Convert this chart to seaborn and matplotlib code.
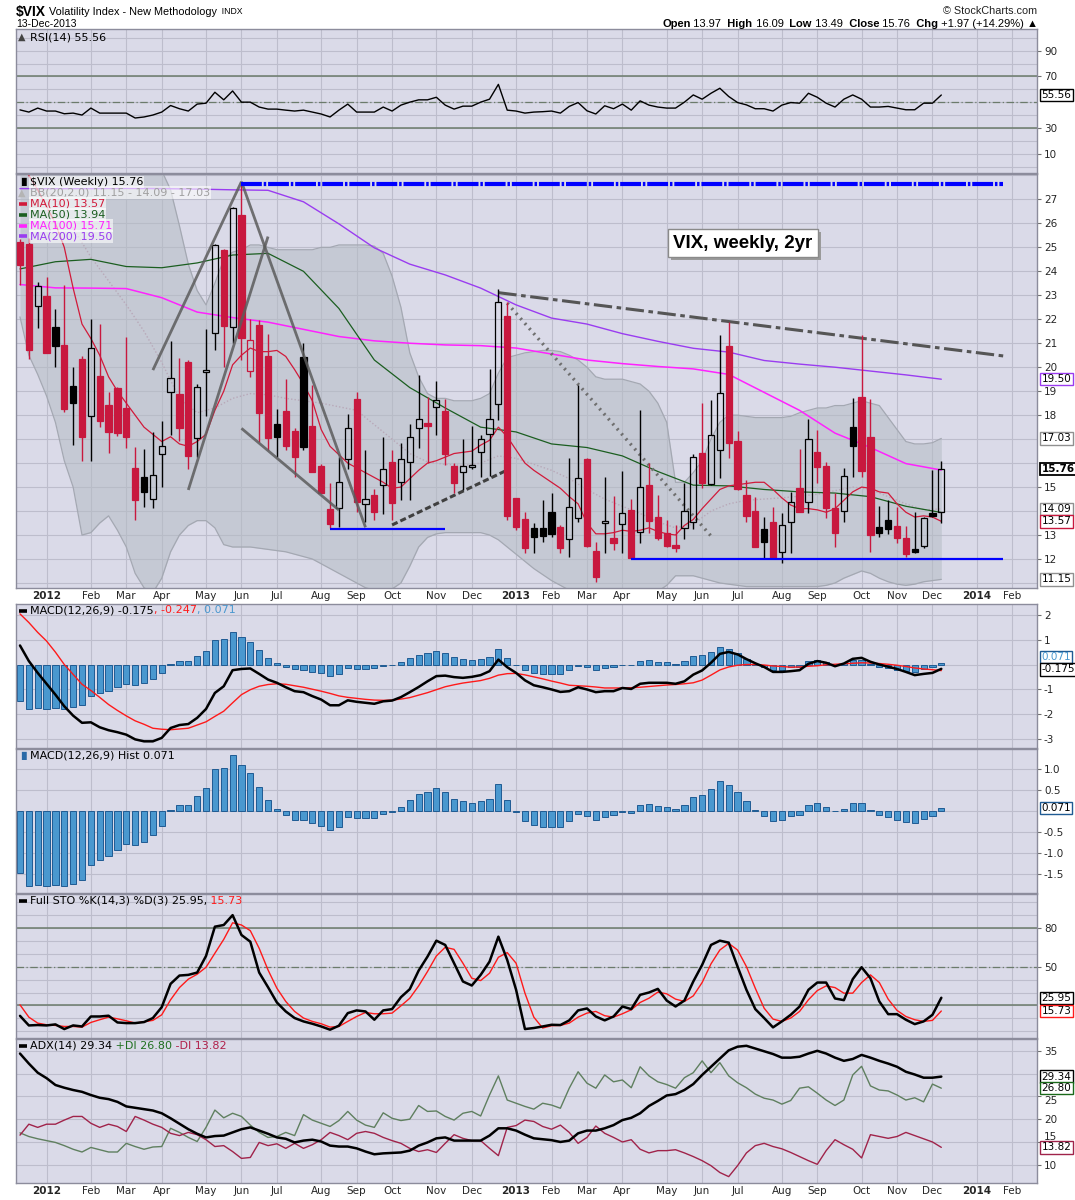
import numpy as np
import pandas as pd
import matplotlib
matplotlib.use("Agg")
import matplotlib.pyplot as plt
import matplotlib.transforms as mtransforms
from matplotlib.lines import Line2D
from matplotlib.patches import Rectangle
import seaborn as sns

# ---------------- data: $VIX weekly bars, week ending Friday ----------------
first_week = "2011-12-16"

opens = [25.24, 25.14, 22.57, 22.97, 21.68, 20.93, 19.22, 20.33, 17.98, 19.64,
         18.41, 19.12, 18.29, 15.81, 15.41, 14.49, 16.37, 18.95, 18.88, 20.23,
         17.03, 19.79, 21.44, 24.89, 21.69, 26.35, 19.86, 21.76, 20.47, 17.63,
         18.17, 17.34, 20.41, 17.55, 15.88, 14.07, 14.11, 16.16, 18.68, 14.28,
         14.67, 15.09, 16.03, 15.20, 16.03, 17.48, 17.66, 18.33, 18.19, 15.88,
         15.61, 15.84, 16.45, 17.21, 18.45, 22.14, 14.53, 13.66, 13.28, 13.28,
         13.97, 13.35, 12.82, 13.70, 16.16, 12.33, 13.49, 12.86, 13.45, 14.04,
         13.11, 15.09, 13.74, 13.07, 12.58, 13.28, 13.56, 16.41, 15.13, 16.55,
         20.90, 16.92, 14.67, 14.00, 13.24, 13.56, 12.28, 13.53, 14.95, 14.36,
         16.45, 15.88, 14.11, 14.02, 17.51, 18.74, 17.10, 13.32, 13.63, 13.38,
         12.86, 12.42, 12.54, 13.91, 13.97]
highs = [25.35, 25.40, 23.54, 23.75, 22.43, 23.43, 20.00, 20.45, 22.01, 21.80,
         18.95, 19.16, 21.28, 16.69, 16.59, 17.31, 17.77, 21.10, 20.40, 20.30,
         19.30, 21.58, 25.14, 24.95, 26.70, 27.67, 22.00, 21.97, 21.39, 18.26,
         19.50, 17.48, 21.00, 19.26, 15.95, 15.16, 16.27, 18.04, 18.98, 16.55,
         14.91, 17.10, 16.55, 16.83, 17.63, 19.68, 18.77, 19.44, 18.68, 15.99,
         16.99, 17.55, 17.17, 19.91, 23.25, 22.70, 14.55, 13.97, 13.52, 14.46,
         14.74, 13.40, 16.20, 19.26, 16.20, 12.72, 15.44, 14.63, 15.67, 14.49,
         18.22, 15.99, 14.67, 13.63, 13.42, 15.16, 16.37, 18.50, 18.63, 21.34,
         21.90, 17.34, 15.30, 14.60, 13.77, 14.15, 13.90, 14.81, 16.59, 17.83,
         17.38, 16.06, 14.74, 15.81, 18.70, 21.34, 18.66, 14.21, 14.46, 14.18,
         13.38, 13.97, 13.77, 15.71, 16.09]
lows = [23.43, 20.33, 21.65, 20.58, 20.02, 18.15, 16.76, 16.10, 16.10, 17.52,
        16.41, 17.15, 16.62, 13.63, 14.18, 14.14, 15.02, 17.17, 16.94, 15.76,
        16.24, 17.97, 20.72, 20.02, 21.00, 20.30, 19.61, 16.90, 16.55, 16.27,
        16.55, 15.44, 16.55, 15.64, 14.74, 13.28, 13.35, 15.74, 13.97, 13.56,
        13.63, 13.88, 13.63, 14.46, 14.46, 16.62, 16.02, 17.17, 15.92, 14.77,
        14.88, 15.74, 15.41, 15.46, 17.80, 13.63, 13.21, 12.26, 12.26, 12.72,
        12.90, 12.24, 12.07, 13.56, 12.49, 11.05, 12.26, 12.38, 12.26, 12.06,
        12.65, 13.10, 12.79, 12.50, 12.31, 12.82, 13.24, 14.95, 15.09, 15.36,
        16.20, 14.88, 13.56, 12.51, 12.03, 12.03, 11.82, 12.26, 13.97, 13.90,
        15.16, 13.72, 12.51, 13.56, 15.43, 15.43, 12.31, 12.93, 13.04, 12.65,
        12.07, 12.24, 12.45, 13.77, 13.49]
closes = [24.27, 20.72, 23.40, 20.61, 20.90, 18.27, 18.52, 17.10, 20.79, 17.77,
          17.31, 17.24, 17.10, 14.46, 14.81, 15.50, 16.71, 19.54, 17.45, 16.31,
          19.16, 19.89, 25.10, 21.73, 26.66, 21.23, 21.14, 18.10, 17.06, 17.10,
          16.73, 16.27, 16.69, 15.64, 14.74, 13.45, 15.20, 17.45, 14.36, 14.49,
          13.97, 15.74, 14.32, 16.16, 17.10, 17.83, 17.56, 18.63, 16.37, 15.16,
          15.88, 15.92, 16.99, 17.84, 22.71, 13.81, 13.35, 12.45, 12.93, 12.95,
          13.04, 12.45, 14.16, 15.37, 12.54, 11.26, 13.59, 12.68, 13.91, 12.06,
          14.99, 13.60, 12.86, 12.54, 12.45, 14.00, 16.27, 15.16, 17.17, 18.91,
          16.85, 14.91, 13.81, 12.51, 12.72, 12.03, 13.42, 14.36, 13.97, 16.99,
          15.85, 14.14, 13.10, 15.46, 16.73, 15.68, 13.00, 13.07, 13.27, 12.89,
          12.21, 12.28, 13.70, 13.79, 15.76]

ma10 = [28.8, 28.0, 27.4, 26.7, 26.0, 25.0, 23.3, 21.8, 21.2, 20.5,
        19.6, 19.0, 18.5, 18.0, 17.5, 17.2, 16.9, 17.1, 16.8, 16.7,
        16.9, 17.2, 18.2, 19.0, 20.1, 20.5, 20.8, 20.65, 20.65, 20.7,
        20.45, 19.9, 19.3, 18.6, 17.4, 16.7, 16.35, 16.0, 15.8, 15.6,
        15.4, 15.2, 14.95, 15.0, 15.35, 15.7, 16.0, 16.1, 16.25, 16.4,
        16.45, 16.5, 16.75, 16.95, 17.5, 17.1, 16.55, 16.0, 15.7, 15.45,
        15.2, 14.95, 14.6, 14.3, 13.5, 13.05, 13.05, 13.1, 13.2, 13.15,
        13.2, 13.3, 13.15, 13.05, 13.0, 13.4, 13.65, 14.1, 14.5, 14.9,
        15.05, 15.1, 15.15, 15.2, 15.2, 14.9, 14.55, 14.25, 14.1, 14.1,
        14.05, 13.95, 14.1, 14.45, 14.8, 15.0, 14.95, 14.8, 14.75, 14.3,
        13.95, 13.75, 13.8, 13.75, 13.57]
# slow averages, read every 4th week
ma_step = 4
ma50 = [24.1, 24.4, 24.5, 24.2, 24.15, 24.35, 24.68, 24.75, 24.0, 22.45, 20.3, 19.15, 18.3, 17.5,
        17.3, 16.8, 16.65, 16.3, 15.65, 15.08, 15.05, 14.9, 14.8, 14.75, 14.6, 14.2, 13.94]
ma100 = [23.45, 23.31, 23.3, 23.28, 22.9, 22.3, 22.07, 21.88, 21.58, 21.28, 21.1, 21.0, 20.93, 20.9,
         20.8, 20.55, 20.3, 20.15, 20.03, 19.93, 19.7, 18.95, 18.2, 17.25, 16.65, 15.98, 15.71]
ma200 = [27.45, 27.45, 27.45, 27.46, 27.45, 27.43, 27.40, 27.38, 26.9, 25.98, 24.98, 24.3, 23.85, 23.3,
         22.6, 22.05, 21.8, 21.4, 21.08, 20.79, 20.63, 20.28, 20.13, 20.0, 19.84, 19.68, 19.50]
bb_upper = [33.0, 33.2, 33.0, 32.6, 32.0, 31.5, 31.0, 30.8, 30.5, 30.2,
            30.0, 29.7, 29.4, 29.1, 28.8, 28.5, 28.2, 27.4, 25.9, 24.3,
            23.2, 22.6, 23.5, 24.5, 24.8, 24.9, 25.1, 25.1, 25.0, 24.9,
            24.9, 24.9, 24.9, 24.9, 25.0, 25.0, 25.1, 25.1, 25.1, 25.1,
            25.05, 24.75, 23.8, 22.5, 20.6, 19.6, 18.9, 18.7, 18.7, 18.6,
            18.6, 18.6, 18.7, 18.9, 19.75, 20.4, 20.5, 20.6, 20.65, 20.7,
            20.7, 20.65, 20.5, 20.3, 20.0, 19.6, 19.5, 19.5, 19.5, 19.4,
            19.3, 19.0, 18.5, 17.7, 15.2, 15.2, 15.6, 16.1, 17.0, 17.7,
            18.0, 18.0, 17.95, 17.9, 17.9, 17.9, 17.9, 17.95, 18.1, 18.2,
            18.3, 18.3, 18.4, 18.4, 18.5, 18.6, 18.5, 18.4, 17.9, 17.4,
            16.9, 16.8, 16.8, 16.85, 17.03]
bb_lower = [22.1, 20.5, 19.7, 18.8, 17.7, 16.1, 15.0, 13.0, 13.1, 13.5,
            13.8, 13.2, 12.5, 11.4, 10.8, 10.6, 11.2, 12.3, 13.0, 13.4,
            13.6, 13.6, 13.3, 12.6, 12.5, 12.5, 12.5, 12.45, 12.4, 12.35,
            12.3, 12.2, 12.1, 12.0, 11.8, 11.6, 11.4, 11.2, 11.0, 10.8,
            10.7, 10.7, 10.75, 11.0, 11.7, 12.5, 12.9, 13.05, 13.1, 13.1,
            13.1, 13.1, 13.1, 13.0, 12.8, 12.5, 12.2, 11.9, 11.6, 11.35,
            11.1, 10.9, 10.7, 10.5, 10.5, 10.45, 10.45, 10.45, 10.5, 10.5,
            10.5, 10.55, 10.65, 10.9, 11.3, 11.3, 11.3, 11.2, 11.1, 11.0,
            10.95, 10.9, 10.85, 10.85, 10.85, 10.85, 10.85, 10.85, 10.85, 10.85,
            10.85, 10.9, 11.0, 11.2, 11.35, 11.5, 11.4, 11.2, 11.05, 10.95,
            10.9, 10.95, 11.05, 11.1, 11.15]
bb_mid_step = 2
bb_mid = [28.5, 27.8, 27.0, 25.8, 24.6, 23.6, 22.6, 21.5, 20.2, 18.7,
          18.1, 18.3, 18.7, 18.9, 18.85, 18.7, 18.6, 18.5, 18.35, 18.2,
          17.6, 17.0, 16.4, 16.05, 15.95, 15.9, 16.0, 16.3, 16.2, 15.95,
          15.7, 15.35, 14.9, 14.5, 14.2, 13.9, 13.55, 13.3, 13.45, 14.0,
          14.3, 14.45, 14.5, 14.55, 14.62, 14.7, 14.85, 15.0, 14.9, 14.6,
          14.3, 14.05, 14.09]

rsi = [44.0, 42.3, 45.4, 43.1, 43.1, 41.0, 41.5, 40.0, 45.4, 41.5,
       41.5, 41.5, 41.5, 37.7, 38.5, 40.0, 42.3, 47.4, 44.9, 43.1,
       48.5, 49.2, 57.7, 51.8, 58.7, 50.0, 50.0, 46.2, 44.6, 44.6,
       43.8, 43.1, 43.8, 42.3, 40.8, 38.5, 43.8, 48.5, 42.3, 42.3,
       42.3, 46.2, 43.1, 47.7, 50.0, 51.8, 51.8, 53.8, 47.7, 44.6,
       46.9, 46.9, 50.0, 52.3, 63.8, 43.8, 43.1, 41.5, 42.3, 42.6,
       43.1, 41.5, 46.7, 49.7, 43.3, 40.8, 47.2, 44.9, 48.5, 43.8,
       51.0, 47.7, 46.2, 45.4, 45.4, 50.0, 55.6, 52.3, 56.9, 60.8,
       54.4, 49.7, 47.9, 44.9, 44.9, 43.1, 47.7, 49.7, 49.2, 56.9,
       53.8, 49.2, 46.2, 52.3, 55.6, 52.3, 46.2, 46.2, 46.7, 45.4,
       44.1, 44.1, 49.2, 49.2, 55.56]

macd_line = [0.77, 0.14, -0.34, -0.78, -1.22, -1.69, -2.07, -2.36, -2.34, -2.54,
             -2.66, -2.74, -2.84, -3.03, -3.11, -3.11, -2.97, -2.57, -2.45, -2.41,
             -2.16, -1.80, -1.15, -0.88, -0.23, -0.18, -0.16, -0.38, -0.61, -0.74,
             -0.92, -1.08, -1.12, -1.28, -1.42, -1.65, -1.65, -1.45, -1.51, -1.55,
             -1.59, -1.49, -1.46, -1.32, -1.12, -0.91, -0.68, -0.47, -0.45, -0.51,
             -0.54, -0.50, -0.43, -0.27, 0.20, -0.11, -0.34, -0.64, -0.84, -0.92,
             -1.01, -1.11, -1.08, -0.92, -1.01, -1.12, -1.08, -1.08, -0.95, -0.99,
             -0.78, -0.74, -0.74, -0.74, -0.78, -0.68, -0.41, -0.24, 0.07, 0.43,
             0.51, 0.41, 0.22, 0.05, -0.10, -0.30, -0.30, -0.27, -0.23, 0.03,
             0.14, 0.07, -0.07, 0.04, 0.23, 0.27, 0.11, 0.00, -0.09, -0.18,
             -0.30, -0.43, -0.38, -0.34, -0.175]
macd_signal = [2.05, 1.70, 1.30, 0.95, 0.50, 0.00, -0.40, -0.80, -1.05, -1.33,
               -1.62, -1.86, -2.08, -2.28, -2.42, -2.58, -2.62, -2.64, -2.61, -2.58,
               -2.45, -2.32, -2.10, -1.89, -1.55, -1.22, -1.02, -0.88, -0.81, -0.78,
               -0.80, -0.86, -0.92, -1.00, -1.08, -1.17, -1.27, -1.33, -1.37, -1.41,
               -1.44, -1.45, -1.44, -1.40, -1.34, -1.24, -1.14, -1.02, -0.90, -0.82,
               -0.75, -0.70, -0.65, -0.56, -0.43, -0.37, -0.36, -0.42, -0.50, -0.58,
               -0.67, -0.75, -0.84, -0.86, -0.88, -0.91, -0.95, -0.95, -0.95, -0.94,
               -0.92, -0.89, -0.86, -0.83, -0.81, -0.78, -0.74, -0.63, -0.43, -0.22,
               -0.10, -0.03, 0.00, 0.00, -0.02, -0.06, -0.08, -0.11, -0.10, -0.07,
               -0.05, -0.01, 0.01, 0.03, 0.05, 0.07, 0.06, 0.04, 0.01, -0.03,
               -0.08, -0.14, -0.18, -0.21, -0.247]
macd_hist = [-1.47, -1.79, -1.75, -1.79, -1.76, -1.79, -1.72, -1.64, -1.29, -1.17,
             -1.07, -0.93, -0.79, -0.81, -0.74, -0.57, -0.36, 0.02, 0.14, 0.14,
             0.36, 0.55, 1.00, 1.02, 1.33, 1.10, 0.90, 0.57, 0.26, 0.06,
             -0.10, -0.20, -0.22, -0.29, -0.36, -0.45, -0.38, -0.14, -0.17, -0.17,
             -0.16, -0.06, -0.02, 0.10, 0.26, 0.40, 0.45, 0.55, 0.45, 0.29,
             0.24, 0.19, 0.24, 0.30, 0.64, 0.26, -0.02, -0.24, -0.34, -0.38,
             -0.38, -0.38, -0.24, -0.06, -0.12, -0.21, -0.13, -0.10, -0.01, -0.04,
             0.14, 0.17, 0.12, 0.10, 0.04, 0.14, 0.33, 0.38, 0.52, 0.71,
             0.63, 0.45, 0.24, 0.02, -0.12, -0.24, -0.21, -0.12, -0.10, 0.14,
             0.19, 0.11, 0.00, 0.06, 0.19, 0.19, 0.02, -0.10, -0.14, -0.21,
             -0.26, -0.29, -0.19, -0.12, 0.071]

sto_k = [12.0, 4.6, 4.9, 4.6, 5.4, 1.8, 4.6, 3.8, 11.5, 11.5,
         12.1, 6.9, 6.4, 6.4, 7.2, 10.3, 18.7, 36.7, 43.1, 43.6,
         45.4, 58.2, 80.8, 82.1, 89.7, 74.4, 69.2, 45.4, 34.1, 22.3,
         15.4, 10.3, 7.7, 5.9, 3.8, 1.3, 4.4, 14.1, 16.2, 15.4,
         9.0, 16.2, 17.2, 26.4, 32.6, 46.9, 57.7, 70.0, 66.7, 52.6,
         38.5, 35.4, 43.6, 53.8, 73.1, 55.1, 32.1, 1.8, 2.6, 3.8,
         5.1, 4.9, 8.5, 16.2, 17.7, 11.5, 8.5, 11.5, 19.2, 17.2,
         28.2, 30.0, 32.8, 23.8, 19.2, 23.8, 38.5, 51.3, 66.7, 70.0,
         68.5, 50.0, 32.1, 17.2, 10.3, 3.1, 7.7, 12.8, 19.2, 32.1,
         37.7, 37.7, 25.4, 24.1, 40.3, 49.5, 41.0, 23.1, 13.3, 13.3,
         9.0, 5.6, 7.7, 12.8, 25.95]
sto_d = [20.5, 11.0, 6.4, 5.1, 4.6, 3.8, 3.8, 3.3, 6.9, 9.0,
         11.0, 9.7, 8.2, 6.4, 7.4, 8.5, 12.8, 24.4, 33.8, 40.3,
         44.1, 49.5, 60.3, 71.0, 83.8, 82.1, 77.7, 64.1, 47.4, 33.3,
         23.1, 15.4, 10.3, 7.7, 5.9, 3.3, 3.8, 7.7, 11.5, 14.6,
         13.6, 13.6, 14.1, 19.7, 25.6, 35.1, 46.2, 58.2, 64.9, 63.3,
         52.6, 41.0, 39.2, 44.9, 57.2, 60.8, 52.6, 29.5, 11.0, 2.6,
         4.4, 4.6, 6.4, 11.0, 14.1, 15.4, 12.1, 11.0, 13.6, 16.7,
         22.3, 25.6, 30.3, 29.0, 24.9, 23.1, 27.4, 37.7, 52.1, 62.8,
         67.9, 62.8, 50.0, 33.3, 17.9, 9.5, 7.7, 10.3, 15.4, 24.4,
         31.5, 35.1, 33.8, 29.5, 29.5, 37.7, 43.6, 37.7, 24.9, 16.2,
         11.5, 9.0, 7.7, 8.5, 15.73]

adx = [34.4, 32.2, 30.2, 29.0, 27.5, 26.9, 26.4, 26.0, 25.3, 24.7,
       24.4, 23.8, 22.8, 22.5, 22.2, 21.9, 21.3, 20.2, 19.0, 17.8,
       16.8, 16.0, 16.3, 16.4, 17.1, 17.8, 18.2, 17.5, 16.8, 16.0,
       15.7, 14.9, 15.3, 15.5, 15.1, 14.2, 14.0, 14.0, 13.6, 12.9,
       12.3, 12.5, 12.6, 12.7, 13.1, 14.2, 14.9, 15.8, 16.0, 15.3,
       15.3, 15.3, 15.3, 16.4, 18.0, 18.0, 17.5, 16.6, 15.8, 15.6,
       15.4, 15.0, 15.3, 16.9, 17.5, 17.5, 18.0, 18.7, 19.8, 20.3,
       21.3, 22.9, 24.0, 25.2, 25.5, 26.4, 27.7, 29.7, 31.5, 33.3,
       35.1, 35.9, 36.1, 35.5, 34.9, 34.3, 33.5, 33.5, 33.7, 34.4,
       35.0, 34.4, 33.5, 32.8, 33.2, 34.1, 33.5, 32.8, 32.2, 31.5,
       30.4, 29.8, 29.1, 29.1, 29.34]
plus_di = [17.0, 16.2, 15.7, 15.3, 14.9, 14.2, 13.4, 12.8, 13.8, 13.3,
           12.8, 12.8, 14.7, 14.0, 13.4, 13.9, 14.0, 18.0, 17.1, 16.0,
           15.1, 18.2, 22.0, 20.3, 21.3, 20.6, 18.7, 17.1, 16.0, 16.2,
           17.1, 16.4, 21.0, 19.8, 19.1, 18.4, 19.7, 21.7, 19.8, 18.7,
           18.2, 21.4, 20.2, 19.7, 20.0, 23.0, 21.7, 21.8, 20.6, 19.8,
           21.3, 21.7, 20.7, 25.3, 29.5, 24.2, 23.5, 22.8, 22.2, 23.5,
           23.1, 22.4, 26.8, 30.4, 27.9, 26.8, 29.7, 28.2, 28.6, 26.9,
           31.5, 29.5, 28.2, 27.6, 26.8, 29.1, 30.2, 32.8, 30.2, 32.4,
           29.5, 28.0, 26.9, 25.5, 24.6, 24.2, 23.3, 24.1, 26.8, 27.1,
           25.7, 24.2, 23.0, 24.2, 29.7, 31.6, 27.3, 26.4, 26.2, 25.3,
           24.2, 24.7, 23.8, 27.7, 26.80]
minus_di = [16.5, 18.9, 18.2, 18.9, 18.9, 19.8, 20.6, 20.6, 19.1, 18.2,
            18.9, 18.4, 17.3, 20.6, 19.8, 18.9, 18.2, 16.9, 16.4, 17.1,
            16.6, 15.5, 14.0, 14.2, 12.9, 11.4, 11.6, 14.9, 14.2, 14.6,
            13.6, 14.7, 13.6, 14.4, 15.5, 17.1, 16.4, 15.5, 16.9, 17.3,
            16.9, 16.0, 15.3, 14.7, 13.6, 12.9, 13.3, 12.7, 14.7, 16.6,
            15.8, 15.3, 15.3, 13.6, 12.0, 18.2, 18.6, 19.8, 19.5, 18.4,
            17.8, 18.7, 17.1, 14.7, 16.0, 18.5, 16.9, 16.0, 15.0, 15.5,
            13.4, 12.6, 13.1, 13.1, 13.3, 12.6, 11.8, 10.9, 9.8, 8.3,
            7.4, 9.8, 12.6, 14.2, 14.7, 14.0, 13.5, 12.7, 11.8, 10.9,
            10.1, 13.1, 15.5, 14.4, 13.4, 11.5, 16.6, 16.2, 15.8, 16.2,
            17.1, 16.4, 15.7, 15.0, 13.82]

# chartist's annotations: (start week, start value, end week, end value)
wedge_lines = [("2012-03-30", 19.88, "2012-06-08", 27.74),
               ("2012-04-27", 14.88, "2012-06-29", 25.45),
               ("2012-06-08", 27.74, "2012-09-14", 13.32),
               ("2012-06-08", 17.45, "2012-08-24", 14.04)]
top_resistance = ("2012-06-08", 27.66, "2014-01-31", 27.66)
support_2012 = ("2012-08-17", 13.25, "2012-11-16", 13.25)
support_2013 = ("2013-04-12", 12.0, "2014-01-31", 12.0)
rising_2012 = ("2012-10-05", 13.42, "2013-01-04", 15.71)
falling_highs = ("2012-12-28", 23.11, "2014-01-31", 20.47)
falling_dots = ("2013-01-04", 22.67, "2013-06-14", 12.96)

# ---------------- layout ----------------
W, H = 1075, 1200
BG = "#dadae8"
GRID = "#bdbdcc"
RED = "#c8183e"
REFLINE = "#6b7b6b"

sns.set_style("white")
plt.rcParams["font.family"] = ["DejaVu Sans"]
SANS = ["Liberation Sans", "DejaVu Sans"]

n = len(closes)
x = np.arange(n)
t0 = pd.Timestamp(first_week)


def wk(d):
    return (pd.Timestamp(d) - t0).days / 7.0


all_weeks = pd.date_range(first_week, periods=116, freq="W-FRI")
mondays = all_weeks - pd.Timedelta(days=4)
month_pos, month_lab = [], []
for k in range(1, len(all_weeks)):
    if mondays[k].month != mondays[k - 1].month:
        month_pos.append(k)
        month_lab.append(str(mondays[k].year) if mondays[k].month == 1 else mondays[k].strftime("%b"))

XMIN, XMAX = -0.45, 114.8

fig = plt.figure(figsize=(W / 100, H / 100), dpi=100)
fig.patch.set_facecolor("white")


def panel(top, bottom):
    return fig.add_axes([16 / W, 1 - bottom / H, (1037 - 16) / W, (bottom - top) / H])


ax_rsi = panel(29, 173)
ax_main = panel(174, 588)
ax_macd = panel(603.5, 748)
ax_hist = panel(748.5, 893)
ax_sto = panel(893.5, 1038)
ax_adx = panel(1038.5, 1183)


def style(ax, ylim, ticks, labels, grid):
    ax.set_facecolor(BG)
    ax.set_xlim(XMIN, XMAX)
    ax.set_ylim(*ylim)
    for s in ax.spines.values():
        s.set_color("#8c8c9c")
        s.set_linewidth(1.0)
    ax.yaxis.tick_right()
    ax.set_yticks(ticks)
    ax.set_yticklabels(labels)
    ax.tick_params(axis="y", length=3, width=0.8, color="#707070", labelsize=7.5, pad=2)
    ax.set_xticks(month_pos)
    ax.set_xticklabels([])
    ax.tick_params(axis="x", length=0)
    for g in grid:
        ax.axhline(g, color=GRID, lw=0.8, zorder=0.6)
    for m in month_pos:
        ax.axvline(m, color=GRID, lw=0.8, zorder=0.6)


def sline(ax, xs, ys, color, lw=1.0, z=3):
    sns.lineplot(x=np.asarray(xs, float), y=np.asarray(ys, float), ax=ax, color=color,
                 linewidth=lw, estimator=None, sort=False, legend=False, zorder=z)


def seg(ax, spec, **kw):
    d0, v0, d1, v1 = spec
    ax.plot([wk(d0), wk(d1)], [v0, v1], solid_capstyle="butt", **kw)


def tag(ax, y, text, edge, tcolor="black", bold=False, lw=1.0):
    tr = mtransforms.blended_transform_factory(ax.transAxes, ax.transData)
    ax.text(1.0045, y, text, transform=tr, ha="left", va="center", fontsize=7.5, color=tcolor,
            fontweight="bold" if bold else "normal", clip_on=False, zorder=30,
            bbox=dict(boxstyle="square,pad=0.12", fc="white", ec=edge, lw=lw))


# ---------------- RSI ----------------
style(ax_rsi, (-5.0, 106.8), [10, 30, 70, 90], ["10", "30", "70", "90"], range(0, 101, 10))
ax_rsi.axhline(70, color=REFLINE, lw=1.1, zorder=1)
ax_rsi.axhline(30, color=REFLINE, lw=1.1, zorder=1)
ax_rsi.axhline(50, color=REFLINE, lw=0.9, dashes=(6, 2, 1, 2), zorder=1)
sline(ax_rsi, x, rsi, "black", 1.0)
tag(ax_rsi, 55.56, "55.56", "black")

# ---------------- price ----------------
price_ticks = [12, 13, 15, 18, 19, 20, 21, 22, 23, 24, 25, 26, 27]
style(ax_main, (10.79, 28.06), price_ticks, [str(v) for v in price_ticks], range(11, 29))
ax_main.fill_between(x, bb_lower, bb_upper, color="#b4bcc4", alpha=0.55, lw=0, zorder=1)
sline(ax_main, x, bb_upper, "#a4a8b2", 0.9, 1.5)
sline(ax_main, x, bb_lower, "#a4a8b2", 0.9, 1.5)
ax_main.plot(np.arange(0, n, bb_mid_step), bb_mid, color="#b8a8b8", lw=1.0, ls=(0, (1, 1.5)), zorder=1.6)
xs4 = np.arange(0, n, ma_step)
sline(ax_main, xs4, ma200, "#9a3cf0", 1.0, 2)
sline(ax_main, xs4, ma100, "#ff22ff", 1.1, 2)
sline(ax_main, xs4, ma50, "#1b5e20", 0.9, 2.2)
sline(ax_main, x, ma10, "#d11a3a", 0.9, 2.3)

# annotation lines behind candles
seg(ax_main, falling_highs, color="#555555", lw=2.2, dashes=(6, 1.5, 1.5, 1.5), zorder=3)
seg(ax_main, falling_dots, color="#6f6f6f", lw=2.4, dashes=(0.6, 1.4), zorder=3)
seg(ax_main, rising_2012, color="#404040", lw=2.2, dashes=(2, 1), zorder=3)

o = np.asarray(opens)
c = np.asarray(closes)
h = np.asarray(highs)
l = np.asarray(lows)
prev = np.r_[o[0], c[:-1]]
down = c < prev
filled = c < o
col = np.where(down, RED, "black")
body_lo = np.minimum(o, c)
body_hi = np.maximum(o, c)
ax_main.vlines(x, l, body_lo, colors=col, lw=1.0, zorder=4)
ax_main.vlines(x, body_hi, h, colors=col, lw=1.0, zorder=4)
face = [cc if f else "none" for cc, f in zip(col, filled)]
ax_main.bar(x, np.maximum(body_hi - body_lo, 0.05), bottom=body_lo, width=0.7,
            color=face, edgecolor=col, linewidth=0.9, zorder=5)

for spec in wedge_lines:
    seg(ax_main, spec, color="#5c5c5c", lw=2.0, alpha=0.85, zorder=6)
seg(ax_main, top_resistance, color="#0000ff", lw=3.0, dashes=(5, 0.45, 0.6, 0.45), zorder=6)
seg(ax_main, support_2012, color="#0000ff", lw=1.6, zorder=6)
seg(ax_main, support_2013, color="#0000ff", lw=1.6, zorder=6)

note = ax_main.text(0.712, 0.833, "VIX, weekly, 2yr", transform=ax_main.transAxes, ha="center",
                    va="center", fontsize=13.5, fontweight="bold", family=SANS, color="black", zorder=8,
                    bbox=dict(boxstyle="square,pad=0.3", fc="white", ec="#8a8a8a", lw=1))

tag(ax_main, 19.50, "19.50", "#9a3cf0")
tag(ax_main, 17.03, "17.03", "#909090")
tag(ax_main, 15.76, "15.76", "black", bold=True, lw=1.3)
tag(ax_main, 14.09, "14.09", "#909090")
tag(ax_main, 13.57, "13.57", RED)
tag(ax_main, 11.15, "11.15", "#909090")

ax_main.set_xticks(x, minor=True)
ax_main.tick_params(axis="x", which="minor", length=2, color="#707080", direction="out")
ax_main.set_xticklabels(month_lab)
ax_main.tick_params(axis="x", which="major", length=0, pad=2, labelsize=7.5)

# ---------------- MACD ----------------
style(ax_macd, (-3.38, 2.47), [2, 1, -1, -2, -3], ["2", "1", "-1", "-2", "-3"], range(-3, 3))
ax_macd.bar(x, macd_hist, width=0.7, color="#4a98cf", edgecolor="#1f5b93", linewidth=0.7, zorder=2)
sline(ax_macd, x, macd_signal, "#ff1a1a", 1.0, 3)
sline(ax_macd, x, macd_line, "black", 1.8, 4)
tag(ax_macd, 0.30, "0.071", "#1f5b93", tcolor="#4a98cf")
tag(ax_macd, -0.2, "-0.175", "black")

# ---------------- MACD histogram ----------------
style(ax_hist, (-1.945, 1.49), [1.0, 0.5, -0.5, -1.0, -1.5],
      ["1.0", "0.5", "-0.5", "-1.0", "-1.5"], [-1.5, -1.0, -0.5, 0, 0.5, 1.0])
ax_hist.bar(x, macd_hist, width=0.7, color="#4a98cf", edgecolor="#1f5b93", linewidth=0.7, zorder=2)
tag(ax_hist, 0.071, "0.071", "#1f5b93")

# ---------------- Full stochastics ----------------
style(ax_sto, (-5.1, 106.4), [80, 50], ["80", "50"], range(0, 101, 10))
ax_sto.axhline(80, color=REFLINE, lw=1.1, zorder=1)
ax_sto.axhline(20, color=REFLINE, lw=1.1, zorder=1)
ax_sto.axhline(50, color=REFLINE, lw=0.9, dashes=(6, 2, 1, 2), zorder=1)
sline(ax_sto, x, sto_d, "#ff1a1a", 1.0, 3)
sline(ax_sto, x, sto_k, "black", 1.8, 4)
tag(ax_sto, 25.95, "25.95", "black")
tag(ax_sto, 15.73, "15.73", "#ff1a1a")

# ---------------- ADX ----------------
style(ax_adx, (6.0, 37.7), [35, 25, 20, 15, 10], ["35", "25", "20", "15", "10"], range(10, 36, 5))
for lab in ax_adx.get_yticklabels():
    if lab.get_text() == "25":
        lab.set_verticalalignment("top")
    elif lab.get_text() == "15":
        lab.set_verticalalignment("bottom")
sline(ax_adx, x, plus_di, "#5f7f5f", 1.0, 3)
sline(ax_adx, x, minus_di, "#a0234a", 1.0, 3)
sline(ax_adx, x, adx, "black", 1.8, 4)
tag(ax_adx, 29.34, "29.34", "black")
tag(ax_adx, 26.80, "26.80", "#1a6a1a")
tag(ax_adx, 13.82, "13.82", "#a0234a")
ax_adx.set_xticks(x, minor=True)
ax_adx.tick_params(axis="x", which="minor", length=2, color="#707080", direction="out")
ax_adx.set_xticklabels(month_lab)
ax_adx.tick_params(axis="x", which="major", length=0, pad=2, labelsize=7.5)

for ax in (ax_main, ax_adx):
    for lab, txt in zip(ax.get_xticklabels(), month_lab):
        if txt.isdigit():
            lab.set_fontweight("bold")

# ---------------- texts ----------------
fig.canvas.draw()
renderer = fig.canvas.get_renderer()

# drop shadow behind the note box
nb = note.get_bbox_patch().get_window_extent(renderer)
ax_main.add_patch(Rectangle((nb.x0 + 3, nb.y0 - 3), nb.width, nb.height, transform=mtransforms.IdentityTransform(),
                            fc="#9a9a9a", ec="none", zorder=7, clip_on=False))


def text_run(x0, y0, pieces, size=8, family=None, right=False, bg=False):
    arts, cur = [], x0
    for p in pieces:
        s, color, weight = p[:3]
        sz = p[3] if len(p) > 3 else size
        kw = dict(color=color, fontsize=sz, fontweight=weight, ha="left", va="center", zorder=40)
        if family:
            kw["family"] = family
        if bg:
            kw["bbox"] = dict(fc="white", ec="none", alpha=0.6, pad=0.8)
        t = fig.text(cur / W, 1 - y0 / H, s, **kw)
        cur += t.get_window_extent(renderer).width
        arts.append(t)
    if right:
        shift = (cur - x0) / W
        for t in arts:
            px, py = t.get_position()
            t.set_position((px - shift, py))
    return cur


def swatch(x0, y0, color, width=8, lw=2.6):
    fig.add_artist(Line2D([x0 / W, (x0 + width) / W], [1 - y0 / H, 1 - y0 / H], color=color, lw=lw,
                          solid_capstyle="butt", zorder=45))


text_run(16, 12, [("$VIX", "black", "bold", 10), (" Volatility Index - New Methodology", "black", "normal", 7.8),
                  ("  INDX", "black", "normal", 6.2)], family=SANS)
text_run(16, 24, [("13-Dec-2013", "black", "normal", 7.5)], family=SANS)
text_run(1037, 11, [("\u00a9 StockCharts.com", "#222222", "normal", 7.8)], family=SANS, right=True)
text_run(1038, 24, [("Open", "black", "bold"), (" 13.97", "black", "normal"), ("  High", "black", "bold"),
                    (" 16.09", "black", "normal"), ("  Low", "black", "bold"), (" 13.49", "black", "normal"),
                    ("  Close", "black", "bold"), (" 15.76", "black", "normal"), ("  Chg", "black", "bold"),
                    (" +1.97 (+14.29%) \u25b2", "black", "normal")], size=8, family=SANS, right=True)

text_run(18, 37, [("\u25b2", "#444444", "normal", 7)])
text_run(30, 37, [("RSI(14) 55.56", "black", "normal")])

legend_rows = [
    (181.7, "$VIX (Weekly) 15.76", "black"),
    (192.6, "BB(20,2.0) 11.15 - 14.09 - 17.03", "#a0a0a0"),
    (203.5, "MA(10) 13.57", "#d11a3a"),
    (214.5, "MA(50) 13.94", "#1b5e20"),
    (225.5, "MA(100) 15.71", "#ff22ff"),
    (236.5, "MA(200) 19.50", "#9a3cf0"),
]
for yy, s, colr in legend_rows:
    text_run(30, yy, [(s, colr, "normal")], bg=True)
text_run(18, 181.7, [("\u2590\u258c", "black", "normal", 5.5)])
text_run(18, 192.6, [("\u25b2", "#b4b4b4", "normal", 7)])
for yy, s, colr in legend_rows[2:]:
    swatch(19, yy, colr)

swatch(19, 610.5, "black")
text_run(30, 610.5, [("MACD(12,26,9) -0.175", "black", "normal"),
                     (", -0.247", "#ff1a1a", "normal"), (", 0.071", "#4a98cf", "normal")])
text_run(18, 755.5, [("\u2590\u258c", "#2a6aa8", "normal", 5.5)])
text_run(30, 755.5, [("MACD(12,26,9) Hist 0.071", "black", "normal")])
swatch(19, 900.5, "black")
text_run(30, 900.5, [("Full STO %K(14,3) %D(3) 25.95,", "black", "normal"), (" 15.73", "#ff1a1a", "normal")])
swatch(19, 1045.7, "black")
text_run(30, 1045.7, [("ADX(14) 29.34", "black", "normal"),
                      (" +DI 26.80", "#207020", "normal"), (" -DI 13.82", "#b0204a", "normal")])

fig.savefig("out.png", dpi=100)
